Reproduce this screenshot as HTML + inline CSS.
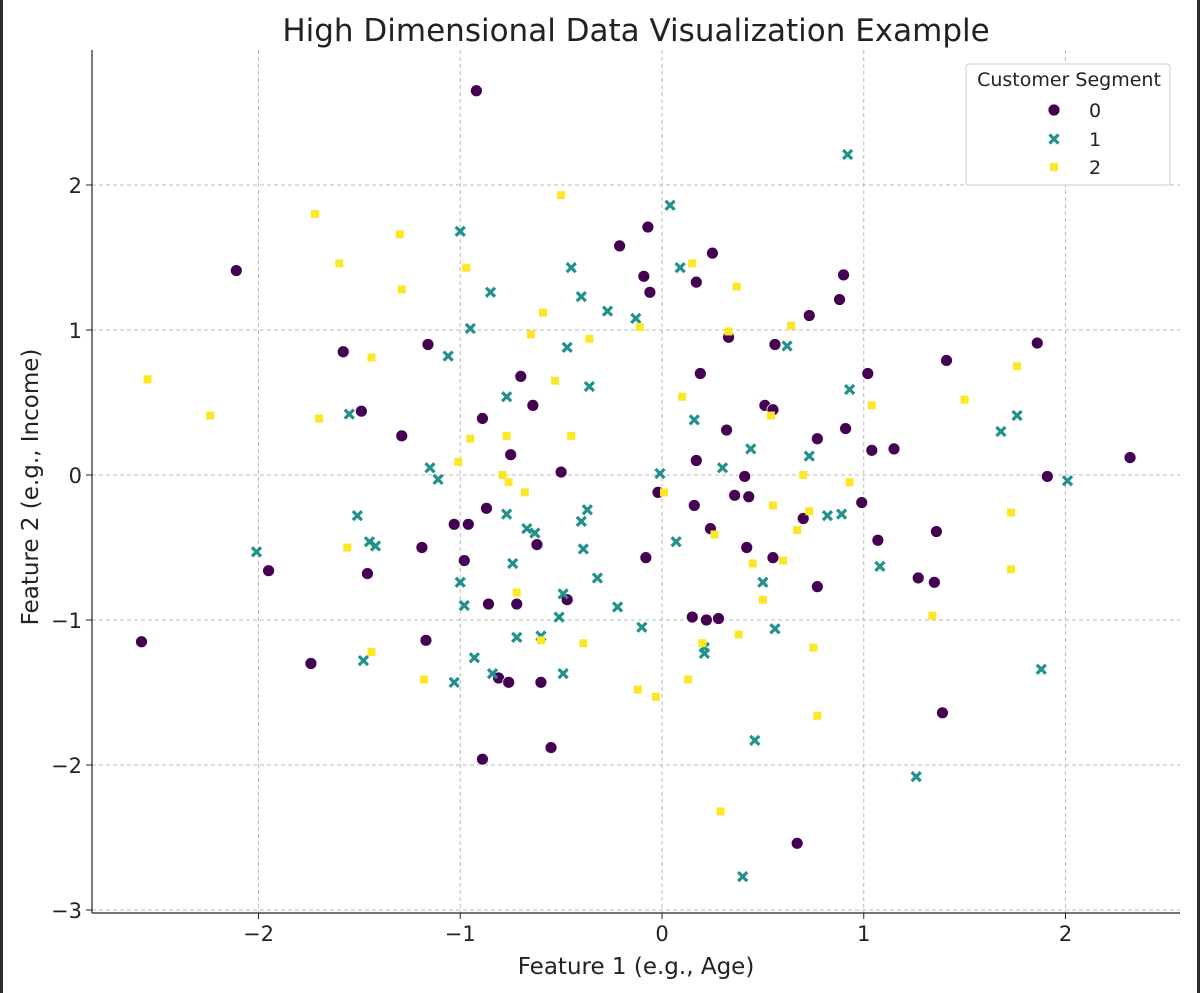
<!DOCTYPE html>
<html><head><meta charset="utf-8"><style>
html,body{margin:0;padding:0;background:#fff;}
svg{display:block;font-family:"DejaVu Sans","Liberation Sans",sans-serif;}
</style></head><body>
<svg id="chart" width="1200" height="993" viewBox="0 0 1200 993">
<rect x="0" y="0" width="1200" height="993" fill="#fff"/>
<rect x="0" y="0" width="3" height="993" fill="#2b2b33"/>
<rect x="1197" y="0" width="3" height="993" fill="#2b2b33"/>
<text x="636" y="41" text-anchor="middle" font-size="31" fill="#222">High Dimensional Data Visualization Example</text>
<g id="grid"></g>
<g id="axes"></g>
<g id="marks"></g>
<text x="636" y="974" text-anchor="middle" font-size="23" fill="#222">Feature 1 (e.g., Age)</text>
<text transform="translate(38,487) rotate(-90)" text-anchor="middle" font-size="23" fill="#222">Feature 2 (e.g., Income)</text>
<g id="legend">
<rect x="966" y="64" width="204" height="121" rx="3" fill="#fff" stroke="#ccc" stroke-width="1"/>
<text x="1069" y="86" text-anchor="middle" font-size="19" fill="#222">Customer Segment</text>
</g>
</svg>
<script>
const xTicks=[-2,-1,0,1,2];
const yTicks=[-3,-2,-1,0,1,2];
const xTickLabels=["−2","−1","0","1","2"];
const yTickLabels=["−3","−2","−1","0","1","2"];
const seg0X=[-0.92,-2.11,-1.58,-1.16,-1.49,-1.29,-0.89,-0.70,-0.64,-0.75,-0.50,-1.03,-0.96,-0.87,-0.98,-1.19,-1.46,-1.95,-2.58,-1.74,-1.17,-0.62,-0.86,-0.72,-0.47,-0.60,-0.81,-0.76,-0.55,-0.89,-0.21,-0.07,-0.06,-0.09,0.25,0.17,0.33,0.56,0.19,0.32,0.17,-0.02,0.16,0.24,-0.08,0.36,0.43,0.42,0.41,0.55,0.51,0.55,0.73,0.88,0.90,0.77,0.91,1.02,1.04,1.15,0.99,0.70,1.07,0.77,0.15,0.22,0.28,1.27,1.35,1.36,1.41,1.86,1.91,2.32,1.39,0.67];
const seg0Y=[2.65,1.41,0.85,0.90,0.44,0.27,0.39,0.68,0.48,0.14,0.02,-0.34,-0.34,-0.23,-0.59,-0.50,-0.68,-0.66,-1.15,-1.30,-1.14,-0.48,-0.89,-0.89,-0.86,-1.43,-1.40,-1.43,-1.88,-1.96,1.58,1.71,1.26,1.37,1.53,1.33,0.95,0.90,0.70,0.31,0.10,-0.12,-0.21,-0.37,-0.57,-0.14,-0.15,-0.50,-0.01,-0.57,0.48,0.45,1.10,1.21,1.38,0.25,0.32,0.70,0.17,0.18,-0.19,-0.30,-0.45,-0.77,-0.98,-1.00,-0.99,-0.71,-0.74,-0.39,0.79,0.91,-0.01,0.12,-1.64,-2.54];
const seg1X=[0.92,0.04,-1.00,-0.85,-0.95,-1.06,-0.45,-0.40,-0.27,-0.13,0.09,-0.47,-0.36,-0.77,-1.55,-1.15,-1.11,-1.51,-1.45,-1.42,-2.01,-0.77,-0.74,-0.37,-0.40,-0.39,-0.32,-0.22,-0.51,-0.49,-1.00,-0.98,-0.67,-0.63,-0.72,-0.60,-0.93,-0.84,-1.03,-1.48,-0.49,-0.10,0.07,-0.01,0.16,0.30,0.44,0.62,0.93,0.73,0.82,0.89,0.50,0.56,0.21,0.21,0.46,0.40,1.08,1.68,1.76,2.01,1.88,1.26];
const seg1Y=[2.21,1.86,1.68,1.26,1.01,0.82,1.43,1.23,1.13,1.08,1.43,0.88,0.61,0.54,0.42,0.05,-0.03,-0.28,-0.46,-0.49,-0.53,-0.27,-0.61,-0.24,-0.32,-0.51,-0.71,-0.91,-0.98,-0.82,-0.74,-0.90,-0.37,-0.40,-1.12,-1.11,-1.26,-1.37,-1.43,-1.28,-1.37,-1.05,-0.46,0.01,0.38,0.05,0.18,0.89,0.59,0.13,-0.28,-0.27,-0.74,-1.06,-1.23,-1.19,-1.83,-2.77,-0.63,0.30,0.41,-0.04,-1.34,-2.08];
const seg2X=[-0.50,-1.72,-1.60,-1.30,-1.29,-0.97,-0.59,-0.65,-0.36,-0.53,-0.11,0.15,0.37,0.33,0.64,0.10,-1.44,-1.70,-2.24,-2.55,-0.95,-1.01,-0.77,-0.45,-0.79,-0.76,-0.68,0.01,0.26,0.45,0.60,0.67,0.55,0.75,0.50,0.38,0.77,0.73,0.93,0.70,1.04,1.50,1.76,1.73,1.73,1.34,0.54,0.20,0.13,-0.12,-0.03,-0.60,-0.39,-0.72,-1.56,-1.44,-1.18,0.29];
const seg2Y=[1.93,1.80,1.46,1.66,1.28,1.43,1.12,0.97,0.94,0.65,1.02,1.46,1.30,0.99,1.03,0.54,0.81,0.39,0.41,0.66,0.25,0.09,0.27,0.27,0.00,-0.05,-0.12,-0.12,-0.41,-0.61,-0.59,-0.38,-0.21,-1.19,-0.86,-1.10,-1.66,-0.25,-0.05,0.00,0.48,0.52,0.75,-0.26,-0.65,-0.97,0.41,-1.16,-1.41,-1.48,-1.53,-1.14,-1.16,-0.81,-0.50,-1.22,-1.41,-2.32];

const NS="http://www.w3.org/2000/svg";
const L=92,R=1180,T=50,B=913;
function sx(v){return 662+v*201.75;}
function sy(v){return 475-v*145;}
function mk(tag,attrs,parent){const e=document.createElementNS(NS,tag);for(const k in attrs)e.setAttribute(k,attrs[k]);parent.appendChild(e);return e;}
const grid=document.getElementById('grid'),axes=document.getElementById('axes'),marks=document.getElementById('marks');
xTicks.forEach((t,i)=>{
  const g=mk('line',{x1:sx(t),x2:sx(t),y1:T,y2:B,stroke:'#bbb','stroke-dasharray':'4,3','stroke-width':1},grid);
  
  
  const tk=mk('line',{x1:sx(t),x2:sx(t),y1:B,y2:B+6,stroke:'#222','stroke-width':1},axes);
  
  
  const tx=mk('text',{x:sx(t),y:B+28,'text-anchor':'middle','font-size':21,fill:'#222'},axes);
  tx.textContent=xTickLabels[i];
  
  
});
yTicks.forEach((t,i)=>{
  const g=mk('line',{x1:L,x2:R,y1:sy(t),y2:sy(t),stroke:'#bbb','stroke-dasharray':'4,3','stroke-width':1},grid);
  
  
  const tk=mk('line',{x1:L-6,x2:L,y1:sy(t),y2:sy(t),stroke:'#222','stroke-width':1},axes);
  
  
  const tx=mk('text',{x:L-10,y:sy(t)+8,'text-anchor':'end','font-size':21,fill:'#222'},axes);
  tx.textContent=yTickLabels[i];
  
  
});
const la=mk('line',{x1:L,x2:L,y1:T,y2:B,stroke:'#222','stroke-width':1.2},axes);


const ba=mk('line',{x1:L,x2:R,y1:B,y2:B,stroke:'#222','stroke-width':1.2},axes);



function circle(x,y,p){const e=mk('circle',{cx:x,cy:y,r:6,fill:'#440154',stroke:'#fff','stroke-width':0.8},p);return e;}
function cross(x,y,p){const d=4.5;const e=mk('path',{d:`M${x-d},${y-d}L${x+d},${y+d}M${x-d},${y+d}L${x+d},${y-d}`,stroke:'#21918c','stroke-width':3.2,fill:'none'},p);return e;}
function square(x,y,p){const e=mk('rect',{x:x-4,y:y-4,width:8,height:8,fill:'#fde725'},p);return e;}
seg0X.forEach((v,i)=>{const e=circle(sx(v),sy(seg0Y[i]),marks);
  
  });
seg1X.forEach((v,i)=>{const e=cross(sx(v),sy(seg1Y[i]),marks);
  
  });
seg2X.forEach((v,i)=>{const e=square(sx(v),sy(seg2Y[i]),marks);
  
  });

const lg=document.getElementById('legend');
const labels=["0","1","2"],ly=[110,139,167];
[circle,cross,square].forEach((f,i)=>{
  const m=f(1054,ly[i],lg);
  
  
  const t=mk('text',{x:1089,y:ly[i]+7,'font-size':19,fill:'#222'},lg);
  t.textContent=labels[i];
  
  
});
</script>
</body></html>
